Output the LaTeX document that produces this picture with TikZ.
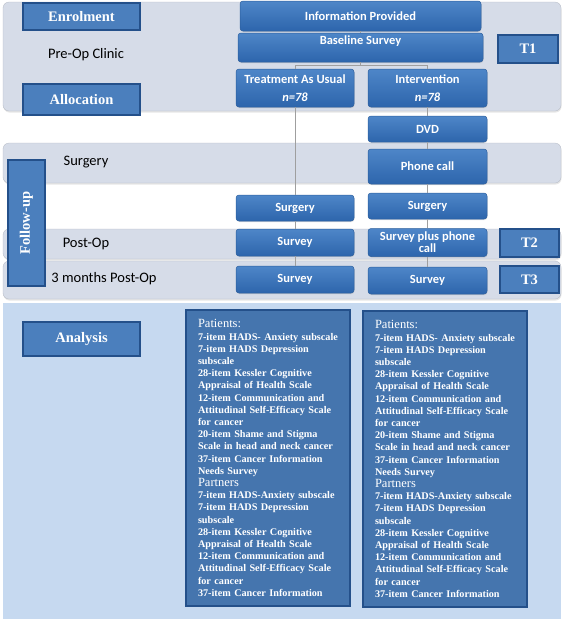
\documentclass[tikz,border=0pt]{standalone}
\usepackage{fontspec}
\setmainfont{Liberation Serif}
\newfontfamily\calibri{Carlito}
\usepackage{tikz}
\usetikzlibrary{shadows}

\definecolor{bandgray}{RGB}{214,220,232}
\definecolor{bandblue}{RGB}{198,217,240}
\definecolor{boxtop}{RGB}{78,134,200}
\definecolor{boxbot}{RGB}{45,101,172}
\definecolor{boxline}{RGB}{44,95,158}
\definecolor{tagfill}{RGB}{75,127,189}
\definecolor{tagline}{RGB}{36,80,138}

\newcommand{\measurelist}{%
{\mdseries\fontsize{12.5}{13}\selectfont Patients:}\\
7-item HADS- Anxiety subscale\\
7-item HADS Depression\\
subscale\\
28-item Kessler Cognitive\\
Appraisal of Health Scale\\
12-item Communication and\\
Attitudinal Self-Efficacy Scale\\
for cancer\\
20-item Shame and Stigma\\
Scale in head and neck cancer\\
37-item Cancer Information\\
Needs Survey\\
{\mdseries\fontsize{12.5}{13}\selectfont Partners}\\
7-item HADS-Anxiety subscale\\
7-item HADS Depression\\
subscale\\
28-item Kessler Cognitive\\
Appraisal of Health Scale\\
12-item Communication and\\
Attitudinal Self-Efficacy Scale\\
for cancer\\
37-item Cancer Information}

\begin{document}
\begin{tikzpicture}[x=1pt,y=-1pt,
  band/.style={fill=bandgray, draw=bandgray!85!black, line width=0.3pt, rounded corners=6pt,
    drop shadow={opacity=0.2, shadow xshift=0.5pt, shadow yshift=-1.5pt}},
  flow/.style={draw=boxline, line width=0.5pt, top color=boxtop, bottom color=boxbot,
    rounded corners=3pt, text=white, font=\calibri\bfseries\fontsize{12.5}{14}\selectfont,
    align=center, inner sep=2pt, minimum width=118pt,
    drop shadow={opacity=0.25, shadow xshift=0.5pt, shadow yshift=-1pt}},
  tag/.style={draw=tagline, line width=1.6pt, fill=tagfill, text=white,
    font=\fontsize{14.5}{16}\selectfont\bfseries, inner sep=2pt},
  stage/.style={font=\calibri\fontsize{14.5}{16}\selectfont},
  measures/.style={draw=tagline, line width=1.2pt, fill=tagfill!92!black, text=white,
    align=left, text width=140pt, inner xsep=12pt, inner ysep=6pt, minimum height=296pt,
    font=\fontsize{10.2}{12.2}\selectfont\bfseries},
  link/.style={draw=gray!75, line width=0.6pt}]
\useasboundingbox (0,0) rectangle (563,619);

% bands
\draw[band] (3,2) rectangle (561,111);
\draw[band] (3,143) rectangle (561,183);
\draw[band] (3,229) rectangle (561,259);
\draw[band] (3,261) rectangle (561,299);
\fill[bandblue] (3,303) rectangle (561,619);

% stage labels
\node[stage] (preop) at (86,55) {Pre-Op Clinic};
\node[stage] (surgery) at (86,162) {Surgery};
\node[stage] (postop) at (86,244) {Post-Op};
\node[stage] (threemonths) at (104,279) {3 months Post-Op};

% tags
\node[tag, minimum width=117pt, minimum height=27pt] (enrol) at (81.5,16.5) {Enrolment};
\node[tag, minimum width=117pt, minimum height=31pt] (alloc) at (81.5,99.5) {Allocation};
\node[tag, minimum width=117pt, minimum height=34pt] (analysis) at (81.5,339) {Analysis};
\node[tag, rotate=90, minimum width=126pt, minimum height=37pt] (follow) at (26.5,223) {Follow-up};
\node[tag, minimum width=60pt, minimum height=28pt] (t1) at (528,49) {T1};
\node[tag, minimum width=59pt, minimum height=28pt] (t2) at (529.5,243) {T2};
\node[tag, minimum width=59pt, minimum height=27pt] (t3) at (529.5,279.5) {T3};

% flow boxes
\node[flow, minimum width=241pt, minimum height=30pt] (info) at (360.5,16) {Information Provided};
\node[flow, minimum width=245pt, minimum height=29pt, text depth=15pt] (base) at (360.5,47.5) {Baseline Survey};
\node[flow, minimum height=38pt] (tau) at (295,88) {Treatment As Usual\\[4pt]\textit{n=78}};
\node[flow, minimum width=119pt, minimum height=38pt] (intv) at (427.5,88) {Intervention\\[4pt]\textit{n=78}};
\node[flow, minimum width=119pt, minimum height=26pt] (dvd) at (427.5,129) {DVD};
\node[flow, minimum width=119pt, minimum height=35pt] (phone) at (427.5,166.5) {Phone call};
\node[flow, minimum height=26pt] (surgL) at (295,208) {Surgery};
\node[flow, minimum width=119pt, minimum height=26pt] (surgR) at (427.5,206) {Surgery};
\node[flow, minimum height=27pt] (survL) at (295,242.5) {Survey};
\node[flow, minimum width=119pt, minimum height=28pt, font=\calibri\bfseries\fontsize{12.5}{12}\selectfont] (survR) at (427.5,242.5) {Survey plus phone\\call};
\node[flow, minimum height=27pt] (survL3) at (295,279.5) {Survey};
\node[flow, minimum width=119pt, minimum height=27pt] (survR3) at (427.5,280.5) {Survey};

% measures
\node[measures] (patL) at (268,458) {\measurelist};
\node[measures] (patR) at (445,459) {\measurelist};

% connectors
\coordinate (split) at (360.5,65);
\draw[link] (info.south) -- (base.north);
\draw[link] (base.south) -- (split);
\draw[link] (split) -| (tau.north);
\draw[link] (split) -| (intv.north);
\draw[link] (tau.south) -- (surgL.north);
\draw[link] (surgL.south) -- (survL.north);
\draw[link] (survL.south) -- (survL3.north);
\draw[link] (intv.south) -- (dvd.north);
\draw[link] (dvd.south) -- (phone.north);
\draw[link] (phone.south) -- (surgR.north);
\draw[link] (surgR.south) -- (survR.north);
\draw[link] (survR.south) -- (survR3.north);

\end{tikzpicture}
\end{document}
